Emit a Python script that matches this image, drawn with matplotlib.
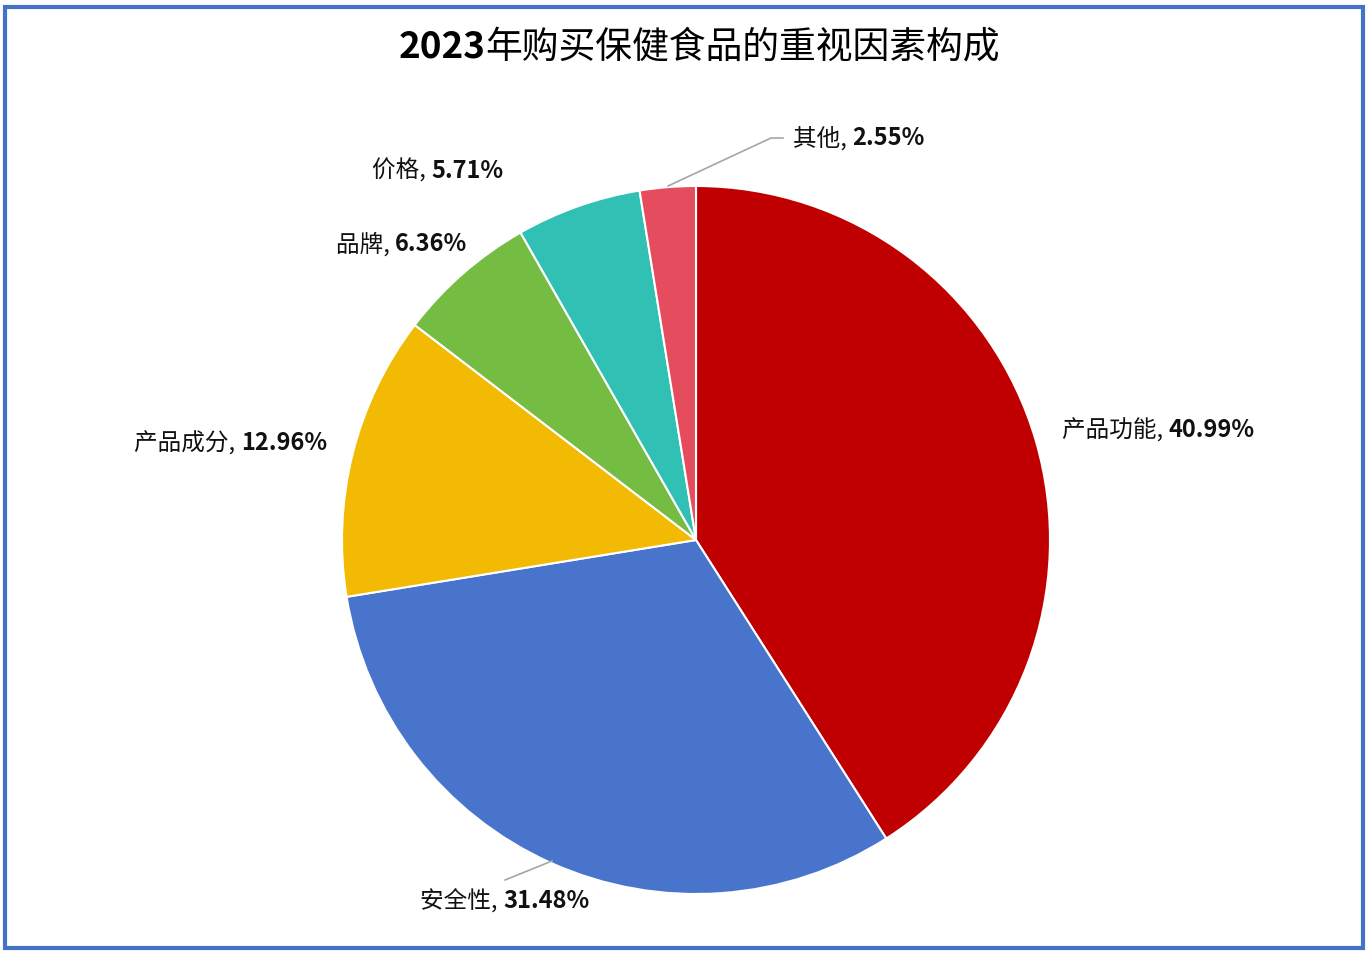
import matplotlib
matplotlib.use("Agg")
import matplotlib.pyplot as plt
from matplotlib.patches import Rectangle
from matplotlib.transforms import Affine2D

plt.rcParams['font.family'] = ['Noto Sans CJK SC', 'DejaVu Sans']

categories = ['产品功能', '安全性', '产品成分', '品牌', '价格', '其他']
values = [40.99, 31.48, 12.96, 6.36, 5.71, 2.55]
colors = ['#C00000', '#4874CB', '#F2BA02', '#75BD42', '#30C0B4', '#E54C5E']

W, H = 1369, 955
fig = plt.figure(figsize=(W/100, H/100), dpi=100)
fig.patch.set_facecolor('white')
fig.add_artist(Rectangle((5/W, 7/H), 1358/W, 941/H, transform=fig.transFigure,
                         fill=False, edgecolor='#4472C4', linewidth=3))

R = 354
cx, cy = 696, 540
ax = fig.add_axes([(cx-R)/W, 1-(cy+R)/H, 2*R/W, 2*R/H])
ax.pie(values, colors=colors, startangle=90, counterclock=False, radius=1,
       wedgeprops=dict(edgecolor='white', linewidth=1.5))
ax.set_xlim(-1, 1); ax.set_ylim(-1, 1)
ax.set_aspect('equal')
ax.axis('off')

def px(x, y):
    return ((x-cx)/R, (cy-y)/R)

renderer = fig.canvas.get_renderer()
pixtrans = Affine2D().scale(1, -1).translate(0, H)

def two_part(x, y, a, b, ha, size, w1w='normal', w2w='bold', colr='#111111'):
    t1 = fig.text(0, 0, a, fontsize=size, fontweight=w1w, color=colr,
                  va='center', ha='left', transform=pixtrans)
    t2 = fig.text(0, 0, b, fontsize=size, fontweight=w2w, color=colr,
                  va='center', ha='left', transform=pixtrans)
    w1 = t1.get_window_extent(renderer).width if a else 0
    w2 = t2.get_window_extent(renderer).width
    tot = w1 + w2
    x0 = {'left': x, 'center': x - tot/2, 'right': x - tot}[ha]
    t1.set_position((x0, y))
    t2.set_position((x0 + w1, y))

label_pos = [((1062, 430), 'left'), ((505, 901), 'center'), ((327, 443), 'right'),
             ((467, 244), 'right'), ((438, 171), 'center'), ((793, 138), 'left')]
for cat, v, ((x, y), ha) in zip(categories, values, label_pos):
    two_part(x, y, f'{cat}, ', f'{v:.2f}%', ha, 17)

ax.plot(*zip(px(552, 861), px(505, 880)), color='#A6A6A6', lw=1.2, clip_on=False)
ax.plot(*zip(px(668, 186), px(771, 138), px(783, 138)), color='#A6A6A6', lw=1.2, clip_on=False)

two_part(699, 47, '2023', '年购买保健食品的重视因素构成', 'center', 26.5,
         w1w='bold', w2w='medium', colr='black')
fig.savefig('out.png', dpi=100)
